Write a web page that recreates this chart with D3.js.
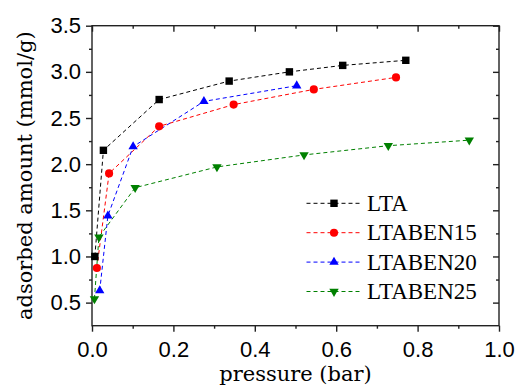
<!DOCTYPE html>
<html>
<head>
<meta charset="utf-8">
<script src="https://cdn.jsdelivr.net/npm/d3@7"></script>
</head>
<body style="margin:0">
<svg id="chart" width="516" height="389"></svg>
<script>
// series data
const seriesNames = ["LTA", "LTABEN15", "LTABEN20", "LTABEN25"];
const pLTA = [0.007, 0.028, 0.165, 0.337, 0.485, 0.616, 0.771];
const qLTA = [1.00, 2.15, 2.70, 2.90, 3.00, 3.07, 3.125];
const pBEN15 = [0.012, 0.042, 0.165, 0.348, 0.545, 0.747];
const qBEN15 = [0.875, 1.90, 2.41, 2.645, 2.81, 2.94];
const pBEN20 = [0.019, 0.039, 0.101, 0.275, 0.503];
const qBEN20 = [0.63, 1.44, 2.19, 2.68, 2.85];
const pBEN25 = [0.006, 0.017, 0.106, 0.307, 0.521, 0.728, 0.927];
const qBEN25 = [0.54, 1.21, 1.745, 1.97, 2.10, 2.20, 2.26];

const xMajor = [0, 0.2, 0.4, 0.6, 0.8, 1.0];
const xMinor = [0.1, 0.3, 0.5, 0.7, 0.9];
const yMajor = [0.5, 1.0, 1.5, 2.0, 2.5, 3.0, 3.5];
const yMinor = [0.75, 1.25, 1.75, 2.25, 2.75, 3.25];

const colors = ["#000000", "#ff0000", "#0000ff", "#008000"];
const shapes = [d3.symbolSquare, d3.symbolCircle, d3.symbolTriangle, d3.symbolTriangle];
const shapeSize = [55, 52, 38, 38];
const shapeRot = [0, 0, 0, 180];

const series = seriesNames.map((name, i) => {
    const ps = [pLTA, pBEN15, pBEN20, pBEN25][i];
    const qs = [qLTA, qBEN15, qBEN20, qBEN25][i];
    return { name: name, values: ps.map((p, j) => ({ p: p, q: qs[j] })) };
});

const svg = d3.select("#chart");
const plotLeft = 92, plotRight = 499, plotTop = 25.7, plotBottom = 325.7;

const x = d3.scaleLinear().domain([0, 1]).range([plotLeft, plotRight]);
const y = d3.scaleLinear().domain([0.25, 3.5]).range([plotBottom, plotTop]);

// bottom axis
svg.append("g")
    .attr("transform", `translate(0,${plotBottom})`)
    .call(d3.axisBottom(x).tickValues(xMajor).tickFormat(d3.format(".1f"))
        .tickSize(6).tickSizeOuter(0).tickPadding(9.5));
svg.append("g")
    .attr("transform", `translate(0,${plotBottom})`)
    .call(d3.axisBottom(x).tickValues(xMinor).tickFormat("").tickSize(3).tickSizeOuter(0));

// left axis
svg.append("g")
    .attr("transform", `translate(${plotLeft},0)`)
    .call(d3.axisLeft(y).tickValues(yMajor).tickFormat(d3.format(".1f"))
        .tickSize(6).tickSizeOuter(0).tickPadding(5));
svg.append("g")
    .attr("transform", `translate(${plotLeft},0)`)
    .call(d3.axisLeft(y).tickValues(yMinor).tickFormat("").tickSize(3).tickSizeOuter(0));

// top and right axes, ticks pointing inward
svg.append("g")
    .attr("transform", `translate(0,${plotTop})`)
    .call(d3.axisTop(x).tickValues(xMajor).tickFormat("").tickSize(-6).tickSizeOuter(0));
svg.append("g")
    .attr("transform", `translate(0,${plotTop})`)
    .call(d3.axisTop(x).tickValues(xMinor).tickFormat("").tickSize(-3).tickSizeOuter(0));
svg.append("g")
    .attr("transform", `translate(${plotRight},0)`)
    .call(d3.axisRight(y).tickValues(yMajor).tickFormat("").tickSize(-6).tickSizeOuter(0));
svg.append("g")
    .attr("transform", `translate(${plotRight},0)`)
    .call(d3.axisRight(y).tickValues(yMinor).tickFormat("").tickSize(-3).tickSizeOuter(0));

svg.selectAll(".domain").remove();
svg.selectAll(".tick line").attr("stroke", "#222").attr("stroke-width", 1.4);
svg.selectAll(".tick text")
    .attr("fill", "#000")
    .attr("font-family", "Liberation Sans")
    .attr("font-size", 22);

// frame
svg.append("rect")
    .attr("x", plotLeft).attr("y", plotTop)
    .attr("width", plotRight - plotLeft).attr("height", plotBottom - plotTop)
    .attr("fill", "none").attr("stroke", "#222").attr("stroke-width", 1.4);

// lines and markers
const line = d3.line().x(d => x(d.p)).y(d => y(d.q));

series.forEach((s, i) => {
    svg.append("path")
        .datum(s.values)
        .attr("d", line)
        .attr("fill", "none")
        .attr("stroke", colors[i])
        .attr("stroke-width", 1)
        .attr("stroke-dasharray", "4,3");
});
series.forEach((s, i) => {
    svg.selectAll(".pt" + i)
        .data(s.values)
        .join("path")
        .attr("class", "pt" + i)
        .attr("d", d3.symbol().type(shapes[i]).size(shapeSize[i]))
        .attr("transform", d => `translate(${x(d.p)},${y(d.q)}) rotate(${shapeRot[i]})`)
        .attr("fill", colors[i]);
});

// legend
const legY0 = 203.3, legStep = 29.4;
svg.selectAll(".leg-line")
    .data(series)
    .join("line")
    .attr("class", "leg-line")
    .attr("x1", 306.5).attr("x2", 361.5)
    .attr("y1", (d, i) => legY0 + i * legStep)
    .attr("y2", (d, i) => legY0 + i * legStep)
    .attr("stroke", (d, i) => colors[i])
    .attr("stroke-width", 1)
    .attr("stroke-dasharray", "4,3");
svg.selectAll(".leg-mark")
    .data(series)
    .join("path")
    .attr("class", "leg-mark")
    .attr("d", (d, i) => d3.symbol().type(shapes[i]).size(shapeSize[i])())
    .attr("transform", (d, i) => `translate(334,${legY0 + i * legStep}) rotate(${shapeRot[i]})`)
    .attr("fill", (d, i) => colors[i]);
svg.selectAll(".leg-text")
    .data(series)
    .join("text")
    .attr("class", "leg-text")
    .attr("x", 367)
    .attr("y", (d, i) => legY0 + i * legStep + 7.4)
    .attr("font-family", "Liberation Serif")
    .attr("font-size", 23)
    .text(d => d.name);

// axis titles
svg.selectAll(".axis-title")
    .data([
        { text: "pressure (bar)", tf: `translate(${(plotLeft + plotRight) / 2},381)` },
        { text: "adsorbed amount (mmol/g)", tf: `translate(32,${(plotTop + plotBottom) / 2}) rotate(-90)` }
    ])
    .join("text")
    .attr("class", "axis-title")
    .attr("transform", d => d.tf)
    .attr("text-anchor", "middle")
    .attr("font-family", "DejaVu Serif")
    .attr("font-size", 21)
    .text(d => d.text);
</script>
</body>
</html>
